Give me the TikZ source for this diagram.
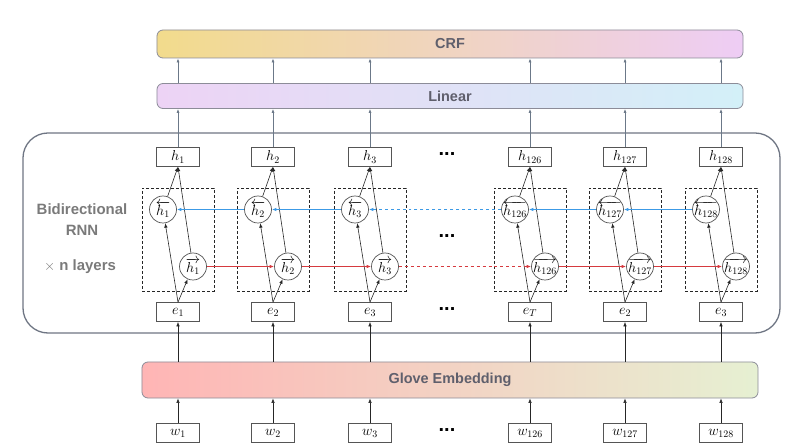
\documentclass[tikz,border=0pt]{standalone}
\usepackage{fontspec}
\setsansfont{Liberation Sans}
\usetikzlibrary{arrows.meta}
\definecolor{boxgray}{HTML}{555555}
\definecolor{bandborder}{HTML}{8C8C98}
\definecolor{bandtext}{HTML}{5F5F6C}
\definecolor{sidetext}{HTML}{7A7A7A}
\definecolor{bigbox}{HTML}{6E7583}
\definecolor{toparr}{HTML}{6B7888}
\definecolor{redline}{HTML}{D63A3F}
\definecolor{blueline}{HTML}{3C9AE6}
\definecolor{crfL}{HTML}{F2DB8C}
\definecolor{crfM}{HTML}{F0D2DA}
\definecolor{crfR}{HTML}{EECDF5}
\definecolor{linL}{HTML}{EDD3F5}
\definecolor{linM}{HTML}{E6E6F8}
\definecolor{linR}{HTML}{D3F0F8}
\definecolor{gloL}{HTML}{FFB5B5}
\definecolor{gloM}{HTML}{F7D5C2}
\definecolor{gloR}{HTML}{E6F0D2}
\tikzset{
  labbox/.style={draw=boxgray, fill=white, line width=0.7bp, minimum width=43bp, minimum height=19bp, inner sep=0pt, font=\fontsize{14}{16}\selectfont},
  circ/.style={circle, draw=boxgray, fill=white, line width=0.7bp, minimum size=27bp, inner sep=-2bp, font=\fontsize{14}{16}\selectfont},
  band/.style={rounded corners=6bp, draw=bandborder, line width=0.8bp, inner sep=0pt, font=\sffamily\bfseries\fontsize{14.5}{16}\selectfont, text=bandtext},
  dbox/.style={draw=black!85, dash pattern=on 3bp off 2bp, line width=0.7bp, minimum width=72bp, minimum height=103bp, inner sep=0pt},
  arr/.style={-{Latex[length=4.5bp,width=3.5bp]}, line width=0.6bp, draw=black!85},
  grayarr/.style={-{Latex[length=4bp,width=3bp]}, line width=0.7bp, draw=toparr},
  redarr/.style={-{Latex[length=4.5bp,width=3.5bp]}, line width=1.1bp, draw=redline},
  bluearr/.style={-{Latex[length=4.5bp,width=3.5bp]}, line width=1.2bp, draw=blueline, color=blueline},
  side/.style={font=\sffamily\bfseries\fontsize{15}{17}\selectfont, text=sidetext, inner sep=0pt},
  dots/.style={font=\sffamily\bfseries\fontsize{20}{22}\selectfont, inner sep=0pt}
}
\begin{document}
\begin{tikzpicture}[x=1bp,y=-1bp]
\useasboundingbox (0,0) rectangle (800,448);
% big rounded box
\node[draw=bigbox, line width=1.3bp, rounded corners=25bp, minimum width=757bp, minimum height=200bp, inner sep=0pt] (rnn) at (401.5,233) {};
% bands
\node[band, left color=crfL, middle color=crfM, right color=crfR, minimum width=586bp, minimum height=28bp] (crf) at (450,44) {CRF};
\node[band, left color=linL, middle color=linM, right color=linR, minimum width=586bp, minimum height=25bp] (lin) at (450,96) {Linear};
\node[band, left color=gloL, middle color=gloM, right color=gloR, minimum width=616bp, minimum height=36bp] (glo) at (450,380) {Glove Embedding};
% side labels
\node[side] (bi) at (82,209) {Bidirectional};
\node[side] (rn) at (82,230) {RNN};
\node[side] (nl) at (80,267) {$\times$ n layers};
% columns
\foreach \i/\c/\lab/\elab in {1/178/1/1, 2/273/2/2, 3/370/3/3, 4/530/126/T, 5/625/127/2, 6/721/128/3}{
  \node[dbox] (d\i) at (\c,239.5) {};
  \node[labbox] (h\i) at (\c,157) {$h_{\lab}$};
  \node[labbox] (e\i) at (\c,312) {$e_{\elab}$};
  \node[labbox] (w\i) at (\c,433) {$w_{\lab}$};
  \node[circ] (b\i) at (\c-15,209.5) {$\overleftarrow{h_{\lab}}$};
  \node[circ] (f\i) at (\c+15,266.5) {$\overrightarrow{h_{\lab}}$};
  \draw[arr] (w\i.north) -- (w\i.north |- glo.south);
  \draw[arr] (e\i.south |- glo.north) -- (e\i.south);
  \draw[arr] (e\i.north) -- (f\i);
  \draw[arr] (e\i.north) -- (b\i);
  \draw[arr] (f\i) -- (h\i.south);
  \draw[arr] (b\i) -- (h\i.south);
  \draw[grayarr] (h\i.north) -- (h\i.north |- lin.south);
  \draw[grayarr] (h\i.north |- lin.north) -- (h\i.north |- crf.south);
}
% recurrent connections
\draw[redarr] (f1) -- (f2);
\draw[redarr] (f2) -- (f3);
\draw[redarr, dashed] (f3) -- (f4);
\draw[redarr] (f4) -- (f5);
\draw[redarr] (f5) -- (f6);
\draw[bluearr] (b2) -- (b1);
\draw[bluearr] (b3) -- (b2);
\draw[bluearr, dashed] (b4) -- (b3);
\draw[bluearr] (b5) -- (b4);
\draw[bluearr] (b6) -- (b5);
% ellipses
\node[dots] (dt1) at (447,154) {...};
\node[dots] (dt2) at (447,236) {...};
\node[dots] (dt3) at (447,309) {...};
\node[dots] (dt4) at (447,430) {...};
\end{tikzpicture}
\end{document}
